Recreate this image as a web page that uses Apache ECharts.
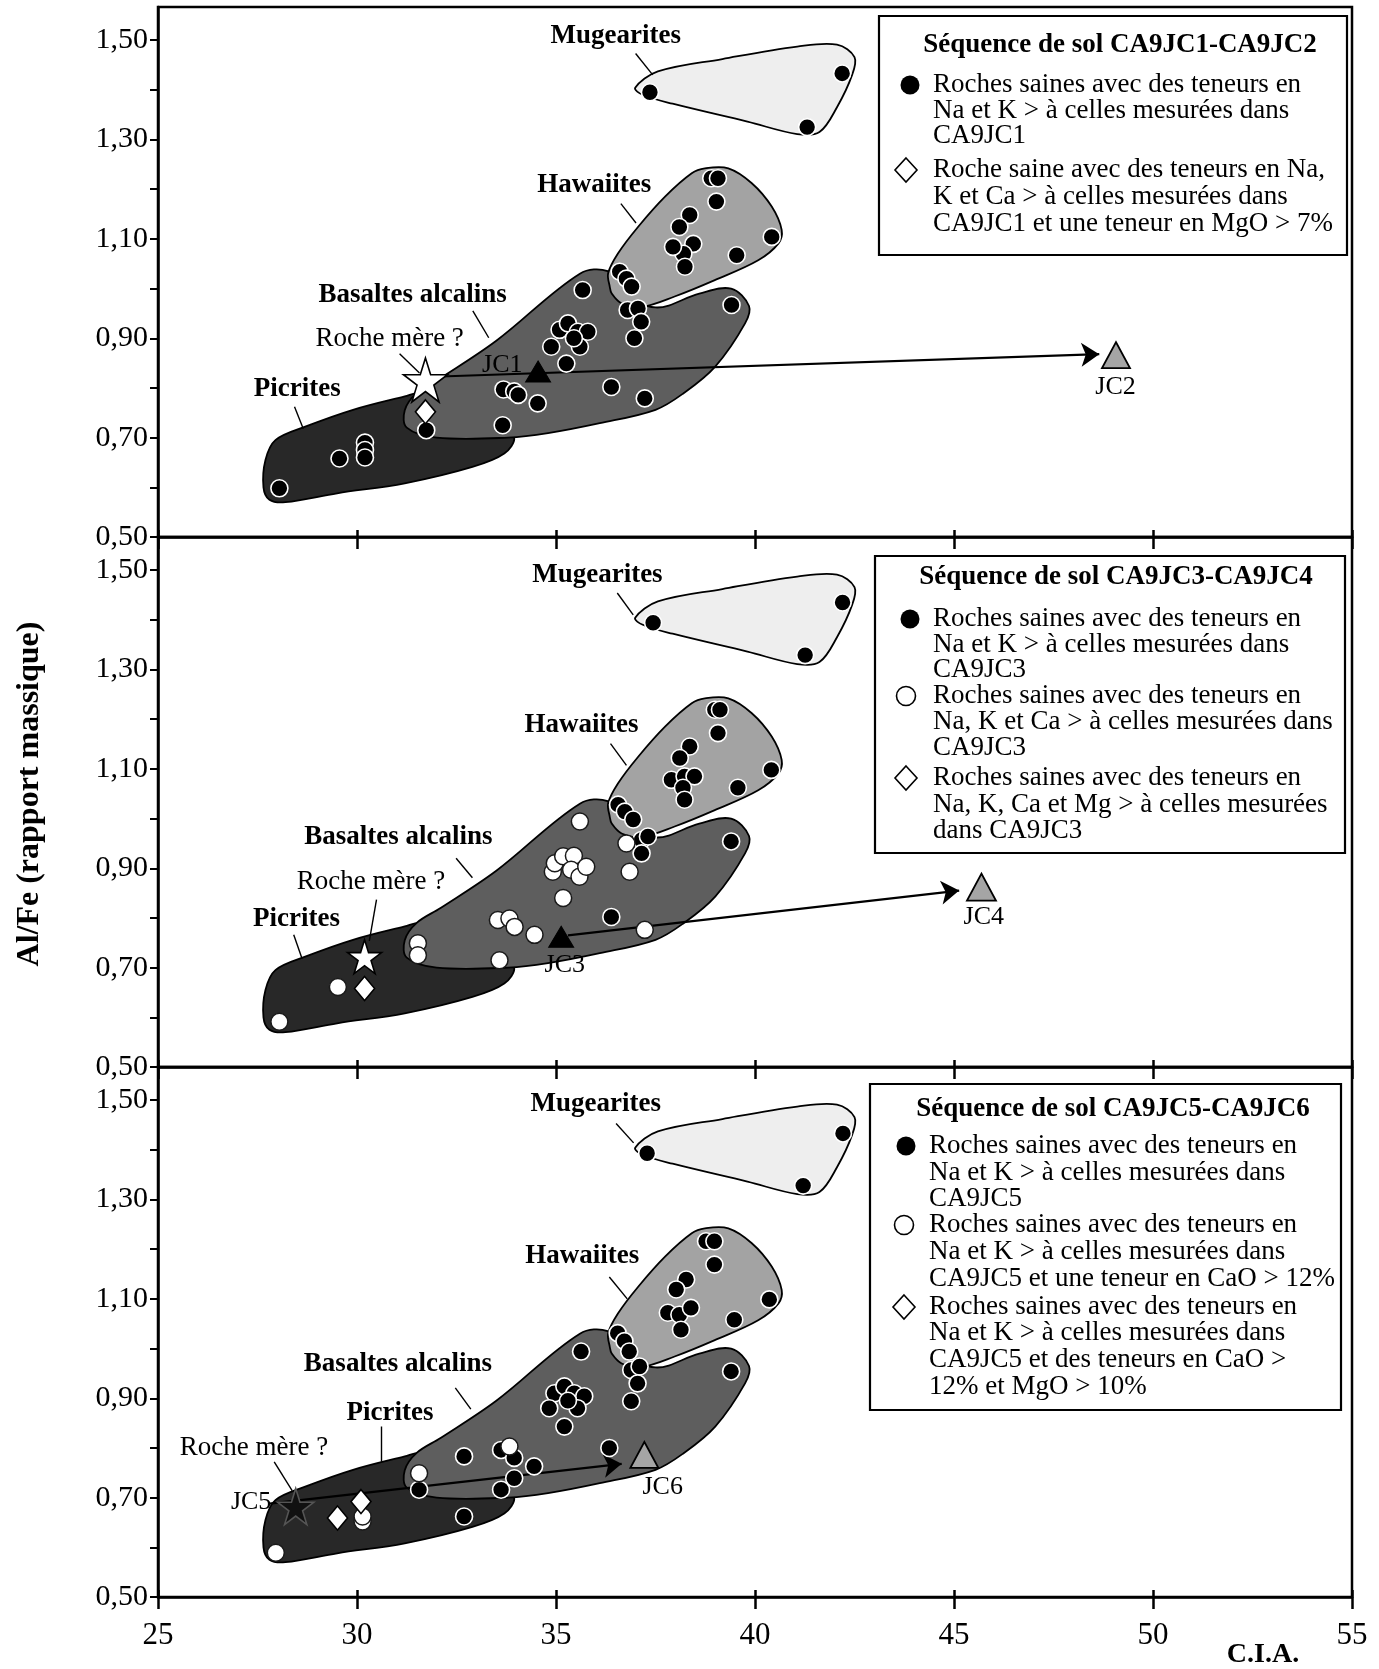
<!DOCTYPE html>
<html><head><meta charset="utf-8">
<script src="https://cdn.jsdelivr.net/npm/echarts@6/dist/echarts.min.js"></script>
<style>html,body{margin:0;padding:0;background:#fff}#c{width:1379px;height:1669px}</style>
</head><body><div id="c"></div><script>
// ---------- axes ----------
const xTicks = [25,30,35,40,45,50,55];
const yTicks = [0.5,0.6,0.7,0.8,0.9,1.0,1.1,1.2,1.3,1.4,1.5];
const yLabels = [0.5,0.7,0.9,1.1,1.3,1.5];

// ---------- petrographic fields (C.I.A., Al/Fe) ----------
const mugeariteField = [[36.99,1.404],[37.56,1.437],[39.18,1.462],[41.06,1.487],[42.06,1.491],[42.5,1.466],[42.44,1.43],[42.06,1.365],[41.62,1.315],[41.06,1.311],[39.81,1.336],[37.93,1.372],[37.18,1.39]];
const hawaiiteField = [[36.35,1.004],[36.31,1.031],[36.56,1.071],[37.06,1.124],[37.74,1.185],[38.41,1.232],[38.74,1.242],[39.33,1.242],[39.92,1.212],[40.42,1.165],[40.67,1.118],[40.59,1.091],[40.08,1.057],[38.99,1.017],[37.98,0.984],[37.15,0.963],[36.65,0.97],[36.4,0.99]];
const basaltField = [[31.25,0.72],[31.2,0.755],[31.5,0.79],[32.1,0.82],[33.5,0.895],[35.6,1.03],[36.3,1.035],[36.6,1.0],[37.5,0.962],[38.6,0.99],[39.4,1.0],[39.85,0.965],[39.75,0.93],[39.0,0.843],[38.2,0.789],[37.5,0.756],[36.1,0.729],[34.8,0.709],[33.8,0.70],[32.0,0.70]];
const picriteField = [[27.65,0.60],[27.7,0.655],[27.95,0.695],[28.7,0.722],[29.9,0.756],[31.2,0.783],[31.6,0.79],[32.5,0.77],[33.6,0.73],[33.95,0.70],[33.7,0.668],[32.9,0.641],[31.2,0.608],[29.5,0.588],[28.2,0.57],[27.8,0.575]];

// ---------- panel 1 : CA9JC1-CA9JC2 ----------
const p1Filled = [[28.05,0.598],[29.56,0.658],[30.2,0.69],[30.2,0.675],[30.2,0.66],
 [31.74,0.715],[33.66,0.725],[33.68,0.797],[33.95,0.793],[34.05,0.786],[34.54,0.769],
 [35.09,0.917],[35.3,0.93],[35.55,0.913],[35.8,0.913],[34.88,0.883],[35.6,0.883],[35.45,0.9],[35.26,0.849],[35.67,0.997],
 [36.39,0.802],[37.23,0.779],
 [36.6,1.034],[36.77,1.02],[36.9,1.004],[36.8,0.957],[37.06,0.96],[37.14,0.933],[36.97,0.90],
 [38.9,1.222],[39.07,1.222],[39.03,1.175],[38.36,1.148],[38.1,1.124],[38.45,1.09],[38.2,1.07],[37.94,1.084],[38.24,1.044],[39.54,1.067],[40.42,1.104],[39.41,0.967],
 [37.36,1.395],[42.19,1.433],[41.31,1.325]];
const p1Open = [];
const p1Diamond = [[31.72,0.752]];
const p1Star = [[31.72,0.816]];
const p1Start = [[34.55,0.833]];   // JC1
const p1End = [[49.07,0.866]];     // JC2
const p1Arrow = [[32.1,0.823],[48.65,0.868]];
const p1LabelText = ['Mugearites','Hawaiites','Basaltes alcalins','Roche mère ?','Picrites','JC1','JC2'];
const p1LabelAt = [[36.5,1.509],[35.96,1.208],[31.4,0.986],[30.82,0.898],[28.5,0.798],[33.65,0.846],[49.06,0.801]];
const p1Leaders = [[[37.0,1.473],[37.43,1.43]],[[36.63,1.171],[37.01,1.132]],[[32.91,0.955],[33.31,0.901]],[[31.07,0.869],[31.57,0.83]],[[28.43,0.762],[28.65,0.718]]];

// ---------- panel 2 : CA9JC3-CA9JC4 ----------
const p2Filled = [[36.39,0.802],
 [36.56,1.028],[36.73,1.014],[36.94,0.998],[37.15,0.957],[37.31,0.964],[37.15,0.93],
 [38.99,1.219],[39.12,1.219],[39.07,1.172],[38.36,1.145],[38.11,1.122],[37.9,1.078],[38.23,1.085],[38.48,1.085],[38.19,1.062],[38.23,1.038],[39.57,1.062],[40.41,1.098],[39.4,0.954],
 [37.44,1.394],[42.2,1.435],[41.26,1.329]];
const p2Open = [[28.05,0.591],[29.52,0.661],[31.53,0.749],[31.53,0.725],[33.58,0.715],[33.54,0.796],[33.83,0.799],[33.96,0.782],[34.46,0.766],
 [37.23,0.776],
 [34.92,0.893],[34.97,0.91],[35.18,0.924],[35.45,0.925],[35.38,0.897],[35.59,0.883],[35.76,0.903],[35.18,0.84],[35.6,0.994],
 [36.77,0.95],[36.85,0.893]];
const p2Diamond = [[30.19,0.658]];
const p2Star = [[30.19,0.722]];
const p2Start = [[35.13,0.762]];   // JC3
const p2End = [[45.69,0.862]];     // JC4
const p2Arrow = [[35.3,0.765],[45.13,0.855]];
const p2LabelText = ['Mugearites','Hawaiites','Basaltes alcalins','Roche mère ?','Picrites','JC3','JC4'];
const p2LabelAt = [[36.04,1.49],[35.64,1.188],[31.04,0.962],[30.35,0.873],[28.48,0.798],[35.22,0.705],[45.75,0.801]];
const p2Leaders = [[[36.54,1.454],[36.94,1.41]],[[36.37,1.151],[36.77,1.107]],[[32.49,0.92],[32.9,0.881]],[[30.49,0.837],[30.31,0.754]],[[28.41,0.766],[28.62,0.718]]];

// ---------- panel 3 : CA9JC5-CA9JC6 ----------
const p3Filled = [[31.56,0.716],[32.69,0.783],[32.69,0.662],[33.62,0.796],[33.95,0.78],[33.95,0.739],[33.62,0.716],[34.45,0.763],
 [36.34,0.80],
 [34.96,0.91],[35.21,0.924],[35.46,0.91],[35.71,0.904],[34.83,0.88],[35.54,0.88],[35.3,0.895],[35.21,0.843],[35.63,0.994],
 [36.55,1.031],[36.72,1.015],[36.84,0.994],[36.89,0.957],[37.1,0.964],[37.05,0.93],[36.89,0.894],
 [38.77,1.216],[38.98,1.216],[38.98,1.169],[38.27,1.139],[38.02,1.119],[37.81,1.072],[38.1,1.068],[38.39,1.082],[38.14,1.038],[39.48,1.058],[40.36,1.099],[39.4,0.954],
 [37.29,1.393],[42.21,1.433],[41.21,1.328]];
const p3Open = [[27.96,0.589],[30.14,0.652],[30.14,0.662],[31.56,0.749],[33.83,0.803]];
const p3Diamond = [[29.51,0.659],[30.1,0.692]];
const p3Star = [[28.46,0.682]];    // JC5
const p3Start = [];
const p3End = [[37.22,0.786]];     // JC6
const p3Arrow = [[27.8,0.688],[36.65,0.768]];
const p3LabelText = ['Mugearites','Hawaiites','Basaltes alcalins','Picrites','Roche mère ?','JC5','JC6'];
const p3LabelAt = [[36.0,1.492],[35.66,1.187],[31.03,0.968],[30.83,0.87],[27.41,0.80],[27.34,0.691],[37.68,0.722]];
const p3Leaders = [[[36.51,1.453],[36.95,1.414]],[[36.34,1.144],[36.79,1.10]],[[32.47,0.921],[32.86,0.878]],[[30.61,0.843],[30.61,0.772]],[[27.92,0.772],[28.37,0.714]]];

// ---------- legends ----------
const legendTitles = ['Séquence de sol CA9JC1-CA9JC2','Séquence de sol CA9JC3-CA9JC4','Séquence de sol CA9JC5-CA9JC6'];
const legendEntries = [
 [['filled',['Roches saines avec des teneurs en','Na et K > à celles mesurées dans','CA9JC1']],
  ['diamond',['Roche saine avec des teneurs en Na,','K et Ca > à celles mesurées dans','CA9JC1 et une teneur en MgO > 7%']]],
 [['filled',['Roches saines avec des teneurs en','Na et K > à celles mesurées dans','CA9JC3']],
  ['open',['Roches saines avec des teneurs en','Na, K et Ca > à celles mesurées dans','CA9JC3']],
  ['diamond',['Roches saines avec des teneurs en','Na, K, Ca et Mg > à celles mesurées','dans CA9JC3']]],
 [['filled',['Roches saines avec des teneurs en','Na et K > à celles mesurées dans','CA9JC5']],
  ['open',['Roches saines avec des teneurs en','Na et K > à celles mesurées dans','CA9JC5 et une teneur en CaO > 12%']],
  ['diamond',['Roches saines avec des teneurs en','Na et K > à celles mesurées dans','CA9JC5 et des teneurs en CaO >','12% et MgO > 10%']]]
];

// ================= rendering =================
const SERIF = '"Liberation Serif","Times New Roman",serif';
const STAR = 'path://M50,2 L61.8,38.2 L100,38.2 L69.1,60.6 L80.9,97 L50,74.5 L19.1,97 L30.9,60.6 L0,38.2 L38.2,38.2 Z';
const Y_MAX = 1.5667;
const PANEL_TOP = [7, 537, 1067];
const PANEL_H = 530;

const panels = [
 {filled:p1Filled, open:p1Open, diamond:p1Diamond, star:p1Star, starFill:'#fff', starSize:44, start:p1Start, end:p1End, endSize:[28,26], arrow:p1Arrow, labelText:p1LabelText, labelAt:p1LabelAt, leaders:p1Leaders},
 {filled:p2Filled, open:p2Open, diamond:p2Diamond, star:p2Star, starFill:'#fff', starSize:34, start:p2Start, end:p2End, endSize:[29,27], arrow:p2Arrow, labelText:p2LabelText, labelAt:p2LabelAt, leaders:p2Leaders},
 {filled:p3Filled, open:p3Open, diamond:p3Diamond, star:p3Star, starFill:'#111', starSize:36, start:p3Start, end:p3End, endSize:[28,26], arrow:p3Arrow, labelText:p3LabelText, labelAt:p3LabelAt, leaders:p3Leaders}
];
const boldNames = ['Mugearites','Hawaiites','Basaltes alcalins','Picrites'];

const grid=[], xAxis=[], yAxis=[], series=[];
panels.forEach((P,i)=>{
  grid.push({left:158, right:27, top:PANEL_TOP[i], height:PANEL_H, show:true, borderColor:'#000', borderWidth:2.5, backgroundColor:'rgba(0,0,0,0)', outerBoundsMode:'none', containLabel:false});
  xAxis.push({gridIndex:i, type:'value', min:25, max:55, position:'bottom',
    axisLine:{show:true,onZero:false,lineStyle:{color:'#000',width:2.5}},
    axisTick:{show:true,inside:false,length:12,customValues:xTicks,lineStyle:{color:'#000',width:2.5}},
    axisLabel:{show:i===2,customValues:xTicks,margin:23,fontFamily:SERIF,fontSize:31,color:'#000',formatter:v=>String(v)},
    splitLine:{show:false}});
  xAxis.push({gridIndex:i, type:'value', min:25, max:55, position:'bottom',
    axisLine:{show:false,onZero:false},
    axisTick:{show:true,inside:true,length:7,customValues:xTicks,lineStyle:{color:'#000',width:2.5}},
    axisLabel:{show:false}, splitLine:{show:false}});
  yAxis.push({gridIndex:i, type:'value', min:0.5, max:Y_MAX, position:'left',
    axisLine:{show:true,onZero:false,lineStyle:{color:'#000',width:2.5}},
    axisTick:{show:true,inside:false,length:8,customValues:yTicks,lineStyle:{color:'#000',width:2}},
    axisLabel:{show:true,customValues:yLabels,margin:10,fontFamily:SERIF,fontSize:30,color:'#000',formatter:v=>v.toFixed(2).replace('.',',')},
    splitLine:{show:false}});
  const xi=2*i, yi=i;
  const field=(pts,fill,z)=>({type:'custom', xAxisIndex:xi, yAxisIndex:yi, silent:true, z:z, clip:true, data:[[30,1]],
    renderItem:(params,api)=>({type:'polygon', shape:{points:pts.map(p=>api.coord(p)), smooth:0.35},
      style:{fill:fill, stroke:'#000', lineWidth:1.8}})});
  series.push(field(mugeariteField,'#eeeeee',1));
  series.push(field(picriteField,'#282828',1));
  series.push(field(basaltField,'#5e5e5e',1));
  series.push(field(hawaiiteField,'#a3a3a3',1));
  series.push({type:'lines', coordinateSystem:'cartesian2d', xAxisIndex:xi, yAxisIndex:yi, z:3, silent:true,
    symbol:'none', lineStyle:{color:'#000',width:1.4,opacity:1},
    data:P.leaders.map(c=>({coords:c}))});
  series.push({type:'lines', coordinateSystem:'cartesian2d', xAxisIndex:xi, yAxisIndex:yi, z:3, silent:true,
    symbol:['none','arrow'], symbolSize:18, lineStyle:{color:'#000',width:2.2,opacity:1},
    data:[{coords:P.arrow}]});
  const sc=(data,sym,size,style,z)=>({type:'scatter', xAxisIndex:xi, yAxisIndex:yi, z:z||4, silent:true, animation:false,
    symbol:sym, symbolSize:size, itemStyle:Object.assign({opacity:1},style), data:data});
  series.push(sc(P.filled,'circle',17,{color:'#000',borderColor:'#fff',borderWidth:1.6}));
  series.push(sc(P.open,'circle',17,{color:'#fff',borderColor:'#1a1a1a',borderWidth:1.5}));
  series.push(sc(P.diamond,'diamond',[20,24],{color:'#fff',borderColor:'#000',borderWidth:1.6}));
  series.push(sc(P.star,STAR,P.starSize,{color:P.starFill,borderColor:P.starFill==='#fff'?'#000':'#555',borderWidth:1.6}));
  series.push(sc(P.start,'triangle',[25,21],{color:'#000',borderColor:'#000',borderWidth:1}));
  series.push(sc(P.end,'triangle',P.endSize,{color:'#a5a5a5',borderColor:'#000',borderWidth:1.8}));
  // annotation texts, positioned through the axes
  series.push({type:'custom', xAxisIndex:xi, yAxisIndex:yi, z:6, silent:true, clip:false,
    data:P.labelAt.map((p,k)=>[p[0],p[1],k]),
    renderItem:(params,api)=>{
      const k=api.value(2), t=P.labelText[k], pt=api.coord([api.value(0),api.value(1)]);
      const bold=boldNames.indexOf(t)>=0;
      return {type:'text', x:pt[0], y:pt[1], style:{text:t, fill:'#000', opacity:1,
        font:(bold?'bold ':'')+(t.indexOf('JC')===0?'26px ':'27px ')+SERIF,
        align:'center', verticalAlign:'middle', textAlign:'center', textVerticalAlign:'middle'}};
    }});
});

// legend boxes as graphics
const legendBox = [
 {x:879,y:16,w:468,h:239,titleX:1120,titleY:45,textX:933,markX:[910,906],lines:[[85,111,136],[170,197,224]]},
 {x:875,y:556,w:470,h:297,titleX:1116,titleY:577,textX:933,markX:[910,906,906],lines:[[619,645,670],[696,722,748],[778,805,831]]},
 {x:870,y:1084,w:471,h:326,titleX:1113,titleY:1109,textX:929,markX:[906,904,904],lines:[[1146,1173,1199],[1225,1252,1279],[1307,1333,1360,1387]]}
];
const graphic=[];
legendBox.forEach((B,i)=>{
  graphic.push({type:'rect', shape:{x:B.x,y:B.y,width:B.w,height:B.h}, style:{fill:'#fff',stroke:'#000',lineWidth:2.2}, z:100});
  graphic.push({type:'text', x:B.titleX, y:B.titleY, z:101, style:{text:legendTitles[i], font:'bold 27px '+SERIF, fill:'#000', align:'center', verticalAlign:'middle', textAlign:'center', textVerticalAlign:'middle'}});
  legendEntries[i].forEach((e,k)=>{
    const ys=B.lines[k], mx=B.markX[k], my=ys[0];
    if(e[0]==='filled') graphic.push({type:'circle', z:101, shape:{cx:mx,cy:my,r:9.5}, style:{fill:'#000'}});
    else if(e[0]==='open') graphic.push({type:'circle', z:101, shape:{cx:mx,cy:my,r:9.5}, style:{fill:'#fff',stroke:'#000',lineWidth:1.6}});
    else graphic.push({type:'polygon', z:101, shape:{points:[[mx,my-12],[mx+11,my],[mx,my+12],[mx-11,my]]}, style:{fill:'#fff',stroke:'#000',lineWidth:1.6}});
    e[1].forEach((t,j)=>{
      graphic.push({type:'text', x:B.textX, y:ys[j], z:101, style:{text:t, font:'27px '+SERIF, fill:'#000', align:'left', verticalAlign:'middle', textAlign:'left', textVerticalAlign:'middle'}});
    });
  });
});
graphic.push({type:'text', x:30, y:794, rotation:Math.PI/2, z:101, style:{text:'Al/Fe (rapport massique)', font:'bold 32px '+SERIF, fill:'#000', align:'center', verticalAlign:'middle', textAlign:'center', textVerticalAlign:'middle'}});
graphic.push({type:'text', x:1263, y:1655, z:101, style:{text:'C.I.A.', font:'bold 28px '+SERIF, fill:'#000', align:'center', verticalAlign:'middle', textAlign:'center', textVerticalAlign:'middle'}});

const chart = echarts.init(document.getElementById('c'), null, {renderer:'canvas'});
chart.setOption({animation:false, backgroundColor:'#fff', textStyle:{fontFamily:SERIF}, grid, xAxis, yAxis, series, graphic});
</script></body></html>
